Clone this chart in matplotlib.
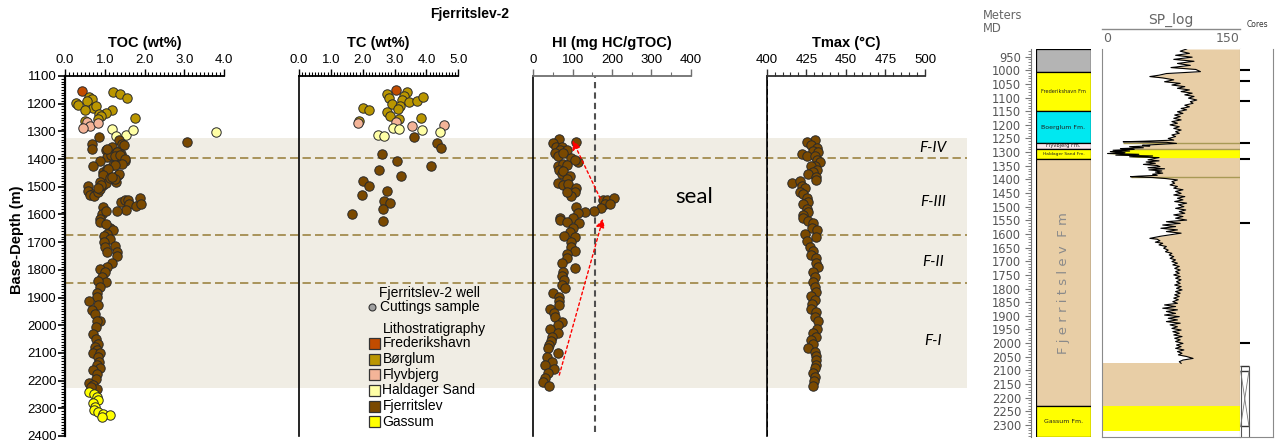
import numpy as np
import matplotlib.pyplot as plt
from matplotlib.patches import Rectangle
from matplotlib.lines import Line2D
from matplotlib.ticker import MultipleLocator, FormatStrFormatter

plt.rcParams['font.family'] = ['Liberation Sans', 'DejaVu Sans']

W, H = 1286, 443


def px_box(x0, y0, x1, y1):
    # axes rectangle from pixel corners (origin top-left)
    return [x0 / W, 1 - y1 / H, (x1 - x0) / W, (y1 - y0) / H]


# Lithostratigraphy
lith_names = ['Frederikshavn', 'Børglum', 'Flyvbjerg', 'Haldager Sand', 'Fjerritslev', 'Gassum']
lith_colors = ['#C24C00', '#BA9600', '#F4B498', '#FFFFA6', '#7A4900', '#FFFF00']

# Zones in the Fjerritslev Fm (m)
seal_top, seal_base = 1325, 2225
zone_bounds = [1395, 1675, 1848]
zone_names = ['F-IV', 'F-III', 'F-II', 'F-I']
zone_label_depth = [1360, 1555, 1772, 2058]
hi_cutoff = 157

# TOC samples (depth m, wt%)
toc_frederikshavn = [(1153, 0.42)]
toc_borglum = [(1159, 1.22), (1165, 1.38), (1178, 1.57), (1175, 0.61), (1182, 0.67), (1189, 0.56),
               (1197, 0.28), (1205, 0.32), (1215, 0.70), (1209, 0.78), (1223, 0.50), (1223, 1.17),
               (1232, 1.03), (1238, 0.86), (1244, 0.91), (1257, 0.84), (1262, 0.50), (1253, 1.75)]
toc_flyvbjerg = [(1265, 0.56), (1280, 0.63), (1287, 0.46), (1271, 0.83)]
toc_haldager = [(1291, 1.18), (1315, 1.28), (1313, 1.53), (1296, 1.70), (1304, 3.80)]
toc_fjerritslev = [(1338, 3.06), (1322, 0.86), (1332, 1.36), (1344, 1.43), (1350, 1.49), (1344, 0.67),
                   (1364, 0.67), (1366, 1.03), (1356, 1.17), (1375, 1.32), (1392, 1.30), (1392, 1.06),
                   (1408, 1.51), (1408, 0.88), (1425, 0.70), (1422, 1.22), (1447, 0.96), (1462, 1.01),
                   (1459, 1.34), (1471, 1.22), (1483, 1.28), (1386, 1.15), (1383, 1.40), (1435, 1.05),
                   (1496, 0.59), (1515, 0.57), (1525, 0.70), (1531, 0.63), (1535, 0.74), (1519, 0.84),
                   (1507, 0.88), (1495, 0.96), (1486, 1.03), (1555, 1.40), (1549, 1.51), (1549, 1.59),
                   (1564, 1.62), (1569, 1.79), (1541, 1.89), (1561, 1.92), (1583, 1.54), (1586, 1.30),
                   (1573, 0.96), (1597, 0.92), (1589, 1.03), (1616, 0.88), (1648, 1.13),
                   (1365, 1.05), (1374, 1.30), (1389, 1.26), (1387, 1.38), (1401, 1.51), (1416, 1.43),
                   (1420, 1.26), (1437, 1.09), (1454, 1.36), (1458, 0.96), (1470, 1.13), (1473, 1.26),
                   (1465, 1.17), (1482, 0.88), (1494, 0.90), (1506, 0.84),
                   (1627, 0.88), (1633, 1.03), (1657, 1.22), (1669, 1.05), (1679, 0.98), (1687, 1.13),
                   (1699, 0.98), (1714, 1.26), (1719, 1.01), (1735, 1.06), (1735, 1.30), (1751, 1.32),
                   (1775, 1.17), (1790, 1.05), (1796, 0.88), (1808, 1.01), (1826, 0.92), (1844, 1.03),
                   (1841, 0.84), (1862, 0.88), (1884, 0.81), (1898, 0.80), (1913, 0.61), (1928, 0.84),
                   (1944, 0.67), (1959, 0.75), (1983, 0.88), (1983, 0.80), (2007, 0.78), (2031, 0.71),
                   (2049, 0.78), (2067, 0.84), (2077, 0.75), (2089, 0.80), (2101, 0.70), (2101, 0.88),
                   (2115, 0.84), (2133, 0.86), (2145, 0.80), (2155, 0.88), (2161, 0.71), (2175, 0.80),
                   (2193, 0.78), (2208, 0.61), (2217, 0.71), (2229, 0.81), (2223, 0.65)]
toc_gassum = [(2241, 0.61), (2247, 0.73), (2259, 0.80), (2271, 0.82), (2281, 0.70), (2296, 0.76),
              (2305, 0.74), (2314, 0.84), (2320, 0.96), (2323, 1.12), (2330, 0.92)]

# TC samples (depth m, wt%)
tc_frederikshavn = [(1151, 3.06)]
tc_borglum = [(1165, 2.75), (1181, 2.82), (1159, 3.38), (1171, 3.31), (1187, 3.22), (1202, 2.93),
              (1207, 3.17), (1220, 3.12), (1195, 3.45), (1192, 3.69), (1177, 3.90), (1214, 2.00),
              (1223, 2.19), (1229, 2.77), (1245, 2.86), (1257, 3.15), (1253, 3.82), (1262, 1.88)]
tc_flyvbjerg = [(1271, 1.86), (1265, 3.03), (1281, 3.54), (1278, 4.56)]
tc_haldager = [(1287, 2.96), (1293, 3.14), (1295, 3.87), (1303, 4.44), (1313, 2.49), (1315, 2.67)]
tc_fjerritslev = [(1322, 3.62), (1343, 4.32), (1361, 4.46), (1382, 2.62), (1406, 3.09), (1424, 4.13),
                  (1440, 2.51), (1460, 3.19), (1478, 2.02), (1496, 2.21), (1514, 2.77), (1531, 1.97),
                  (1551, 2.67), (1560, 2.86), (1582, 2.65), (1600, 1.65), (1623, 2.63)]

# HI samples, Fjerritslev Fm (depth m, mg HC/gTOC)
hi_fjerritslev = [(1329, 65), (1343, 49), (1355, 58), (1355, 72), (1337, 108), (1367, 68), (1367, 85),
                  (1379, 55), (1389, 62), (1377, 76), (1397, 97), (1410, 114), (1402, 106), (1424, 64),
                  (1418, 76), (1422, 85), (1440, 66), (1454, 72), (1442, 76), (1461, 93), (1473, 85),
                  (1486, 64), (1494, 76), (1490, 89), (1506, 108), (1518, 106), (1534, 97), (1518, 85),
                  (1546, 176), (1549, 188), (1540, 205), (1563, 182), (1564, 195), (1578, 171),
                  (1587, 154), (1590, 132), (1574, 108), (1596, 114), (1614, 102), (1614, 68),
                  (1620, 69), (1626, 85), (1632, 117), (1650, 102), (1663, 93), (1678, 78), (1683, 106),
                  (1699, 97), (1717, 95), (1732, 106), (1743, 85), (1759, 85), (1777, 72), (1793, 106),
                  (1807, 76), (1823, 72), (1837, 79), (1853, 72), (1867, 81), (1883, 51), (1898, 66),
                  (1912, 65), (1928, 66), (1943, 42), (1955, 53), (1972, 55), (1988, 72), (2000, 64),
                  (2012, 42), (2028, 64), (2044, 47), (2057, 45), (2072, 41), (2084, 38), (2100, 64),
                  (2114, 36), (2133, 48), (2142, 30), (2159, 53), (2174, 38), (2190, 30), (2205, 25),
                  (2219, 40)]

# Tmax samples, Fjerritslev Fm (depth m, deg C)
tmax_fjerritslev = [(1331, 430.5), (1337, 425.3), (1349, 428.0), (1361, 431.6), (1370, 429.0),
                    (1373, 432.6), (1383, 422.1), (1389, 425.3), (1389, 430.5), (1404, 432.0),
                    (1412, 433.7), (1424, 430.5), (1426, 427.8), (1440, 431.6), (1446, 429.5),
                    (1455, 426.3), (1464, 431.0), (1476, 431.0), (1486, 415.8), (1479, 421.0),
                    (1497, 422.1), (1506, 424.2), (1518, 421.0), (1526, 423.2), (1542, 425.3),
                    (1554, 426.3), (1563, 423.2), (1582, 425.3), (1590, 426.3), (1602, 422.7),
                    (1614, 423.2), (1623, 426.3), (1632, 429.5), (1650, 428.4), (1657, 432.0),
                    (1671, 424.2), (1681, 431.0), (1695, 425.3), (1717, 427.4), (1731, 429.0),
                    (1747, 427.8), (1759, 431.0), (1777, 431.0), (1791, 432.2), (1807, 429.0),
                    (1825, 430.5), (1843, 429.5), (1861, 430.5), (1880, 431.0), (1895, 427.8),
                    (1910, 430.5), (1924, 428.4), (1940, 427.8), (1954, 431.0), (1970, 430.5),
                    (1984, 432.2), (2012, 432.0), (2027, 429.0), (2042, 431.0), (2054, 427.8),
                    (2066, 429.0), (2082, 426.3), (2096, 430.5), (2112, 431.0), (2126, 431.0),
                    (2142, 431.0), (2156, 430.5), (2172, 429.0), (2187, 430.5), (2202, 429.9),
                    (2219, 429.0)]

# Formation column of the composite log (m MD)
form_labels = ['', 'Frederikshavn Fm', 'Boerglum Fm.', 'Flyvbjerg Fm.', 'Haldager Sand Fm.',
               'Fjerritslev Fm', 'Gassum Fm.']
form_top = [922, 1008, 1151, 1266, 1289, 1324, 2232]
form_base = [1008, 1151, 1266, 1289, 1324, 2232, 2344]
form_colors = ['#B4B4B4', '#FFFF00', '#00E8F0', '#FCE8EE', '#FFFF00', '#E8CEA6', '#FFFF00']
form_fontsize = [0, 3.6, 4.5, 3.6, 3.2, 9.5, 4.5]
gassum_td = 2322

# SP log (m MD, mV)
sp_depth = [922, 930, 938, 945, 952, 960, 967, 975, 982, 990, 997, 1005, 1012, 1018, 1023, 1028, 1035,
            1042, 1048, 1054, 1060, 1066, 1072, 1078, 1084, 1090, 1096, 1102, 1109, 1115, 1121, 1128,
            1134, 1140, 1145, 1152, 1158, 1164, 1170, 1176, 1182, 1188, 1194, 1200, 1207, 1213, 1219,
            1225, 1231, 1237, 1243, 1250, 1256, 1260, 1262, 1264, 1268, 1272, 1275, 1277, 1280, 1284,
            1287, 1290, 1293, 1296, 1298, 1302, 1305, 1308, 1311, 1314, 1317, 1320, 1324, 1328, 1332,
            1336, 1341, 1345, 1349, 1353, 1357, 1361, 1365, 1369, 1373, 1377, 1381, 1385, 1388, 1390,
            1393, 1397, 1402, 1408, 1414, 1420, 1426, 1432, 1438, 1444, 1451, 1457, 1463, 1469, 1475,
            1481, 1487, 1493, 1500, 1506, 1512, 1518, 1524, 1530, 1536, 1542, 1549, 1555, 1561, 1567,
            1573, 1579, 1585, 1591, 1597, 1603, 1608, 1612, 1616, 1619, 1625, 1630, 1634, 1640, 1646,
            1652, 1659, 1665, 1671, 1677, 1683, 1689, 1695, 1701, 1707, 1713, 1719, 1726, 1732, 1738,
            1744, 1750, 1756, 1762, 1768, 1775, 1781, 1787, 1793, 1799, 1805, 1811, 1817, 1823, 1829,
            1835, 1841, 1848, 1854, 1860, 1866, 1872, 1878, 1884, 1891, 1897, 1903, 1909, 1915, 1921,
            1927, 1933, 1940, 1946, 1952, 1958, 1964, 1970, 1976, 1982, 1988, 1994, 2001, 2007, 2013,
            2019, 2025, 2031, 2037, 2043, 2049, 2056, 2062, 2068, 2074]
sp_value = [92, 85, 95, 80, 98, 78, 100, 82, 96, 75, 102, 107, 70, 62, 52, 66, 78,
            68, 85, 76, 90, 82, 95, 86, 98, 90, 100, 94, 103, 96, 99, 90,
            95, 86, 92, 82, 88, 79, 85, 78, 86, 76, 82, 74, 84, 78, 86,
            80, 84, 76, 80, 72, 78, 45, 23, 70, 81, 60, 44, 52, 30, 45,
            20, 35, 12, 30, 9, 25, 6, 40, 15, 55, 30, 62, 56, 50, 62,
            48, 58, 45, 60, 63, 50, 68, 51, 65, 58, 66, 55, 60, 40, 31,
            55, 70, 82, 76, 79, 74, 82, 78, 88, 80, 86, 78, 90, 82, 88,
            79, 92, 83, 89, 80, 91, 84, 90, 78, 88, 80, 92, 70, 85, 66,
            80, 64, 82, 70, 86, 74, 64, 58, 52, 60, 63, 58, 66, 62, 70,
            67, 72, 69, 76, 73, 78, 74, 80, 76, 82, 77, 84, 79, 85, 80,
            84, 78, 85, 80, 86, 81, 85, 79, 86, 81, 87, 80, 85, 79, 84,
            78, 83, 77, 82, 68, 80, 66, 82, 70, 80, 68, 84, 72, 82, 70,
            85, 74, 82, 76, 86, 77, 84, 78, 87, 79, 85, 80, 88, 81, 86,
            80, 89, 82, 87, 83, 92, 99, 88, 84, 86]
sp_markers = [1266, 1289, 1390]
sp_marker_start = [23, 20, 31]
sand_top, sand_base = 1289, 1322

# Cored intervals
core_points = [999, 1038, 1111, 1267, 1326, 1561, 2001]
core_top, core_upper, core_lower, core_base = 2082, 2103, 2304, 2344

fig = plt.figure(figsize=(W / 100, H / 100), dpi=100)

# zone shading behind the sample panels
bg = fig.add_axes(px_box(65, 76, 967, 436))
bg.set_xlim(0, 1)
bg.set_ylim(2400, 1100)
bg.axis('off')
bg.axhspan(seal_top, seal_base, color='#F0EDE4', lw=0)
for d in zone_bounds:
    bg.axhline(d, color='#9C8442', lw=1.2, ls=(0, (5, 2.5)))
for name, d in zip(zone_names, zone_label_depth):
    bg.text(0.962, d, name, fontsize=11, style='italic', family='Lato', ha='center', va='center')
bg.text(0.698, 1537, 'seal', fontsize=16, family='Lato', ha='center', va='center')

panel_x = [(65, 224), (299, 458.3), (533.3, 690.7), (766.7, 925)]
panel_titles = ['TOC (wt%)', 'TC (wt%)', 'HI (mg HC/gTOC)', 'Tmax (°C)']
panel_lims = [(0, 4), (0, 5), (0, 400), (400, 500)]
panel_major = [1, 1, 100, 25]
panel_minor = [0.1, 0.1, 50, 5]
panel_fmt = ['%.1f', '%.1f', '%d', '%d']
panel_axcolor = ['black', 'black', '#707070', '#303030']

axes = []
for (x0, x1), lim, mj, mn, fmt, col in zip(panel_x, panel_lims, panel_major, panel_minor,
                                             panel_fmt, panel_axcolor):
    ax = fig.add_axes(px_box(x0, 76, x1, 436))
    ax.patch.set_visible(False)
    ax.set_xlim(*lim)
    ax.set_ylim(2400, 1100)
    ax.xaxis.set_ticks_position('top')
    ax.xaxis.set_major_locator(MultipleLocator(mj))
    ax.xaxis.set_minor_locator(MultipleLocator(mn))
    ax.xaxis.set_major_formatter(FormatStrFormatter(fmt))
    ax.spines[['right', 'bottom']].set_visible(False)
    ax.spines['top'].set_color(col)
    ax.spines['top'].set_linewidth(1.3)
    ax.spines['left'].set_linewidth(1.2)
    ax.tick_params(axis='x', which='major', direction='out', length=5, width=1, color=col,
                   labelsize=9.5, pad=2)
    ax.tick_params(axis='x', which='minor', direction='out', length=3, width=0.8, color=col)
    ax.tick_params(axis='y', which='both', left=False, labelleft=False)
    axes.append(ax)

ax_toc, ax_tc, ax_hi, ax_tmax = axes
ax_toc.yaxis.set_major_locator(MultipleLocator(100))
ax_toc.yaxis.set_minor_locator(MultipleLocator(10))
ax_toc.tick_params(axis='y', which='major', left=True, labelleft=True, direction='out',
                   length=5, width=1.2, labelsize=9.5, pad=1)
ax_toc.tick_params(axis='y', which='minor', left=True, direction='out', length=3, width=0.8)
ax_toc.spines['left'].set_linewidth(1.6)

marker_kw = dict(s=46, edgecolors='#2A2A2A', linewidths=0.7, zorder=3, clip_on=False)


def plot_samples(ax, groups):
    for pts, color in groups:
        pts = np.array(pts)
        ax.scatter(pts[:, 1], pts[:, 0], c=color, **marker_kw)


c = dict(zip(lith_names, lith_colors))
plot_samples(ax_toc, [(toc_frederikshavn, c['Frederikshavn']), (toc_borglum, c['Børglum']),
                      (toc_flyvbjerg, c['Flyvbjerg']), (toc_haldager, c['Haldager Sand']),
                      (toc_fjerritslev, c['Fjerritslev']), (toc_gassum, c['Gassum'])])
plot_samples(ax_tc, [(tc_frederikshavn, c['Frederikshavn']), (tc_borglum, c['Børglum']),
                     (tc_flyvbjerg, c['Flyvbjerg']), (tc_haldager, c['Haldager Sand']),
                     (tc_fjerritslev, c['Fjerritslev'])])
plot_samples(ax_hi, [(hi_fjerritslev, c['Fjerritslev'])])
plot_samples(ax_tmax, [(tmax_fjerritslev, c['Fjerritslev'])])

ax_hi.axvline(hi_cutoff, ymin=0.01, color='#505050', lw=1.5, ls=(0, (3, 2)), zorder=1)
ax_tmax.axvline(400, color='black', lw=1.4, ls=(0, (3, 1.5)), zorder=1)

arrow_kw = dict(arrowstyle='-|>', color='red', lw=1, ls=(0, (2, 2)), mutation_scale=13,
                shrinkA=0, shrinkB=0)
ax_hi.annotate('', xy=(177, 1615), xytext=(66, 2180), arrowprops=arrow_kw, zorder=4)
ax_hi.annotate('', xy=(100, 1333), xytext=(170, 1542), arrowprops=arrow_kw, zorder=4)

# --- composite log on the right ---
depth_ax = fig.add_axes(px_box(1031, 49, 1036, 437))
depth_ax.patch.set_visible(False)
depth_ax.set_ylim(2344, 922)
depth_ax.set_xticks([])
depth_ax.spines[['right', 'top', 'bottom']].set_visible(False)
depth_ax.spines['left'].set_color('#777777')
depth_ax.yaxis.set_minor_locator(MultipleLocator(10))
depth_ax.set_yticks(np.arange(950, 2301, 50))
depth_ax.tick_params(axis='y', which='major', length=4, color='#777777', labelcolor='#555555',
                     labelsize=8.3, pad=3)
depth_ax.tick_params(axis='y', which='minor', length=2, color='#777777')
for t in depth_ax.get_yticklabels():
    t.set_family('DejaVu Sans')

col_ax = fig.add_axes(px_box(1036, 49, 1091, 437))
col_ax.set_xlim(0, 1)
col_ax.set_ylim(2344, 922)
col_ax.axis('off')
for top, base, color, label, fs in zip(form_top, form_base, form_colors, form_labels, form_fontsize):
    col_ax.bar(0.5, base - top, bottom=top, width=1, color=color, edgecolor='black', lw=0.9)
    if label == 'Fjerritslev Fm':
        # spaced-out lettering for the thick unit
        words = [' '.join(w) for w in label.split()]
        col_ax.text(0.5, (top + base) / 2, '  '.join(words), rotation=90, fontsize=fs,
                    color='#8A8A8A', family='DejaVu Sans', ha='center', va='center')
    elif label:
        col_ax.text(0.5, (top + base) / 2, label, fontsize=fs, ha='center', va='center',
                    family='DejaVu Sans', color='#202020')

sp_ax = fig.add_axes(px_box(1102, 49, 1240, 437))
sp_ax.set_xlim(0, 150)
sp_ax.set_ylim(2344, 922)
sp_ax.set_xticks([])
sp_ax.set_yticks([])
sp_ax.spines['top'].set_visible(False)
for s in ['left', 'right', 'bottom']:
    sp_ax.spines[s].set_color('#8A8A8A')
sp_d = np.array(sp_depth)
sp_v = np.array(sp_value)
sp_ax.fill_betweenx(sp_d, sp_v, 150, color=form_colors[5], lw=0)
sand = (sp_d >= sand_top) & (sp_d <= sand_base)
sp_ax.fill_betweenx(sp_d, sp_v, 150, where=sand, color='#FFFF00', lw=0)
sp_ax.hlines(sp_markers, sp_marker_start, 150, color='#A89A55', lw=1)
sp_ax.fill_betweenx([sp_d[-1], form_base[5]], 0, 150, color=form_colors[5], lw=0)
sp_ax.fill_betweenx([form_top[6], gassum_td], 0, 150, color='#FFFF00', lw=0)
sp_ax.plot(sp_v, sp_d, color='black', lw=0.8)

core_ax = fig.add_axes(px_box(1240, 49, 1273, 437))
core_ax.set_xlim(0, 1)
core_ax.set_ylim(2344, 922)
core_ax.set_xticks([])
core_ax.set_yticks([])
core_ax.spines[['top', 'left']].set_visible(False)
for s in ['right', 'bottom']:
    core_ax.spines[s].set_color('#8A8A8A')
core_ax.hlines(core_points, 0, 0.3, color='black', lw=1.5)
core_ax.hlines([core_top, core_upper, core_lower], 0, 0.27, color='#333333', lw=1)
core_ax.vlines([0.02, 0.27], core_top, core_base, color='#555555', lw=0.8)
core_ax.plot([0.02, 0.27], [core_upper, core_lower], color='#777777', lw=0.6)
core_ax.plot([0.27, 0.02], [core_upper, core_lower], color='#777777', lw=0.6)

# --- titles, headers and legend in pixel coordinates ---
ov = fig.add_axes([0, 0, 1, 1], zorder=10)
ov.set_xlim(0, W)
ov.set_ylim(H, 0)
ov.axis('off')

ov.text(470, 14, 'Fjerritslev-2', fontsize=10, fontweight='bold', ha='center', va='center')
for (x0, x1), title in zip(panel_x, panel_titles):
    ov.text((x0 + x1) / 2, 43, title, fontsize=10.5, fontweight='bold', ha='center', va='center')
ov.text(17, 240, 'Base-Depth (m)', fontsize=10.5, fontweight='bold', rotation=90,
        ha='center', va='center')

gray_kw = dict(family='DejaVu Sans', color='#666666')
ov.text(983, 15, 'Meters', fontsize=8.3, ha='left', va='center', **gray_kw)
ov.text(983, 28, 'MD', fontsize=8.3, ha='left', va='center', **gray_kw)
ov.text(1171, 20, 'SP_log', fontsize=10, ha='center', va='center', **gray_kw)
ov.plot([1102, 1240], [28.5, 28.5], color='#8A8A8A', lw=1)
ov.text(1103, 38, '0', fontsize=9, ha='left', va='center', **gray_kw)
ov.text(1240, 38, '150', fontsize=9, ha='right', va='center', **gray_kw)
ov.text(1257, 24, 'Cores', fontsize=5.5, ha='center', va='center', family='DejaVu Sans',
        color='#333333')

ov.text(379, 293, 'Fjerritslev-2 well', fontsize=10, ha='left', va='center')
ov.add_line(Line2D([372], [307], marker='o', ms=5, mfc='#A0A0A0', mec='#333333', mew=0.8))
ov.text(380, 307, 'Cuttings sample', fontsize=10, ha='left', va='center')
ov.text(382.5, 329, 'Lithostratigraphy', fontsize=10, ha='left', va='center')
for i, (name, color) in enumerate(zip(lith_names, lith_colors)):
    yc = 343.3 + i * 15.7
    ov.add_patch(Rectangle((368.5, yc - 5.5), 11, 11, facecolor=color, edgecolor='#333333', lw=0.9))
    ov.text(382.5, yc, name, fontsize=10, ha='left', va='center')

fig.savefig('out.png', dpi=100)
